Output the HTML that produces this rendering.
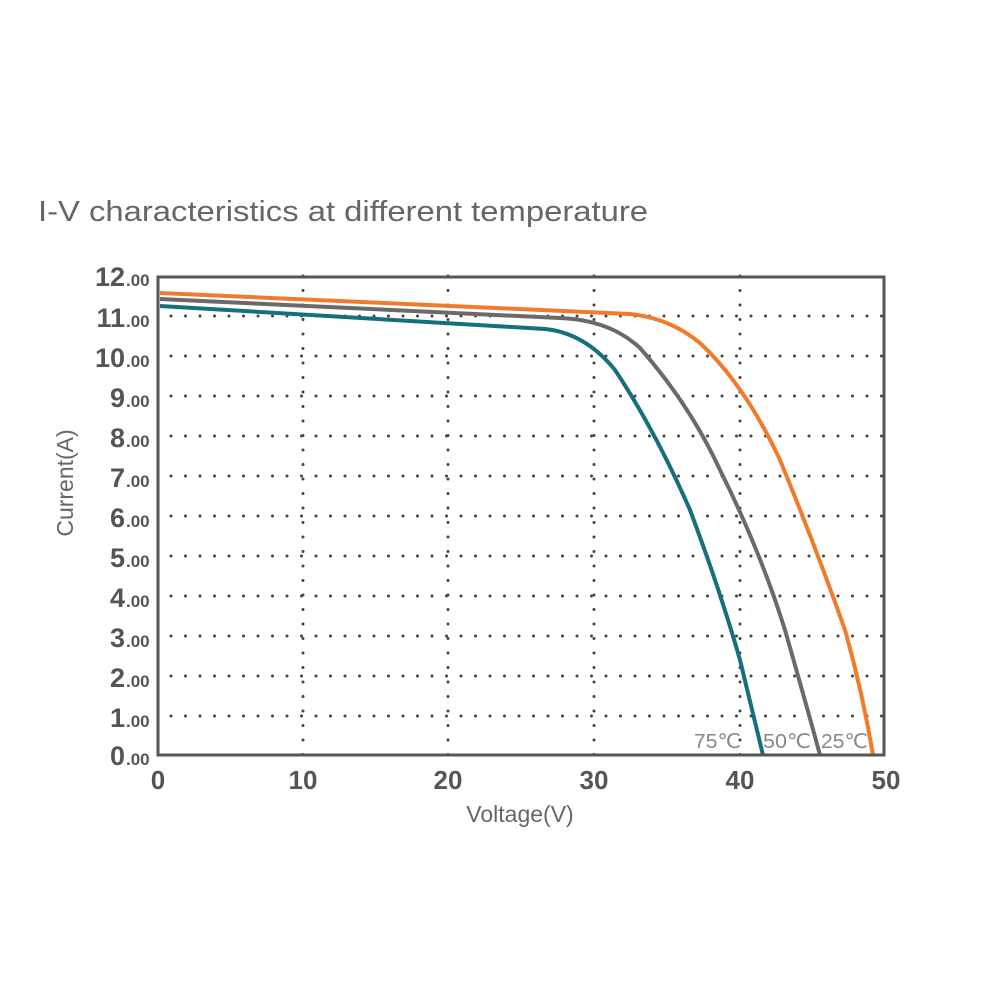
<!DOCTYPE html>
<html><head><meta charset="utf-8"><style>
html,body{margin:0;padding:0;background:#fff;width:1000px;height:1000px;overflow:hidden}
</style></head><body>
<svg width="1000" height="1000" xmlns="http://www.w3.org/2000/svg" font-family="Liberation Sans, DejaVu Sans, sans-serif">
<text x="38" y="221" font-size="29" fill="#666" textLength="610" lengthAdjust="spacingAndGlyphs">I-V characteristics at different temperature</text>
<g stroke="#444" stroke-width="3" stroke-dasharray="0 14.5" stroke-linecap="round" fill="none">
<line x1="303" y1="276" x2="303" y2="756"/><line x1="448" y1="276" x2="448" y2="756"/>
<line x1="594" y1="276" x2="594" y2="756"/><line x1="740" y1="276" x2="740" y2="756"/>
<line x1="171" y1="316" x2="884" y2="316"/><line x1="171" y1="356" x2="884" y2="356"/>
<line x1="171" y1="396" x2="884" y2="396"/><line x1="171" y1="436" x2="884" y2="436"/>
<line x1="171" y1="476" x2="884" y2="476"/><line x1="171" y1="516" x2="884" y2="516"/>
<line x1="171" y1="556" x2="884" y2="556"/><line x1="171" y1="596" x2="884" y2="596"/>
<line x1="171" y1="636" x2="884" y2="636"/><line x1="171" y1="676" x2="884" y2="676"/>
<line x1="171" y1="716" x2="884" y2="716"/>
</g>
<g fill="none" stroke-width="4" stroke-linejoin="round">
<path d="M160,293 L630,314 Q670,318 700,343 Q745,385 780,460 Q815,545 845,630 Q862,690 873,755" stroke="#f07b2a"/>
<path d="M160,299 L560,318 Q610,320 640,348 Q690,405 720,470 Q760,550 785,630 Q805,700 820,755" stroke="#6a6a6a"/>
<path d="M160,306 L545,329 Q585,333 615,370 Q655,430 690,510 Q720,590 740,660 Q752,710 763,755" stroke="#166f7c"/>
</g>
<rect x="158" y="277" width="726" height="478" fill="none" stroke="#555" stroke-width="3"/>
<g font-size="20" fill="#888">
<text x="694" y="748" textLength="47" lengthAdjust="spacingAndGlyphs">75℃</text>
<text x="763" y="748" textLength="48" lengthAdjust="spacingAndGlyphs">50℃</text>
<text x="821" y="748" textLength="47" lengthAdjust="spacingAndGlyphs">25℃</text>
</g>
<g fill="#555" font-weight="bold" text-anchor="end">
<g font-size="27">
<text x="125" y="286">12</text><text x="125" y="327">11</text><text x="125" y="367">10</text>
<text x="125" y="407">9</text><text x="125" y="447">8</text><text x="125" y="487">7</text>
<text x="125" y="527">6</text><text x="125" y="567">5</text><text x="125" y="607">4</text>
<text x="125" y="647">3</text><text x="125" y="687">2</text><text x="125" y="727">1</text><text x="125" y="765">0</text>
</g>
<g font-size="17" text-anchor="start">
<text x="126" y="286">.00</text><text x="126" y="327">.00</text><text x="126" y="367">.00</text>
<text x="126" y="407">.00</text><text x="126" y="447">.00</text><text x="126" y="487">.00</text>
<text x="126" y="527">.00</text><text x="126" y="567">.00</text><text x="126" y="607">.00</text>
<text x="126" y="647">.00</text><text x="126" y="687">.00</text><text x="126" y="727">.00</text><text x="126" y="765">.00</text>
</g>
</g>
<g fill="#555" font-weight="bold" font-size="26" text-anchor="middle">
<text x="158" y="789">0</text><text x="303" y="789">10</text><text x="448" y="789">20</text>
<text x="594" y="789">30</text><text x="740" y="789">40</text><text x="886" y="789">50</text>
</g>
<text x="520" y="822" font-size="23" fill="#666" text-anchor="middle">Voltage(V)</text>
<text transform="translate(73,483) rotate(-90)" font-size="23" fill="#666" text-anchor="middle">Current(A)</text>
</svg>
</body></html>
